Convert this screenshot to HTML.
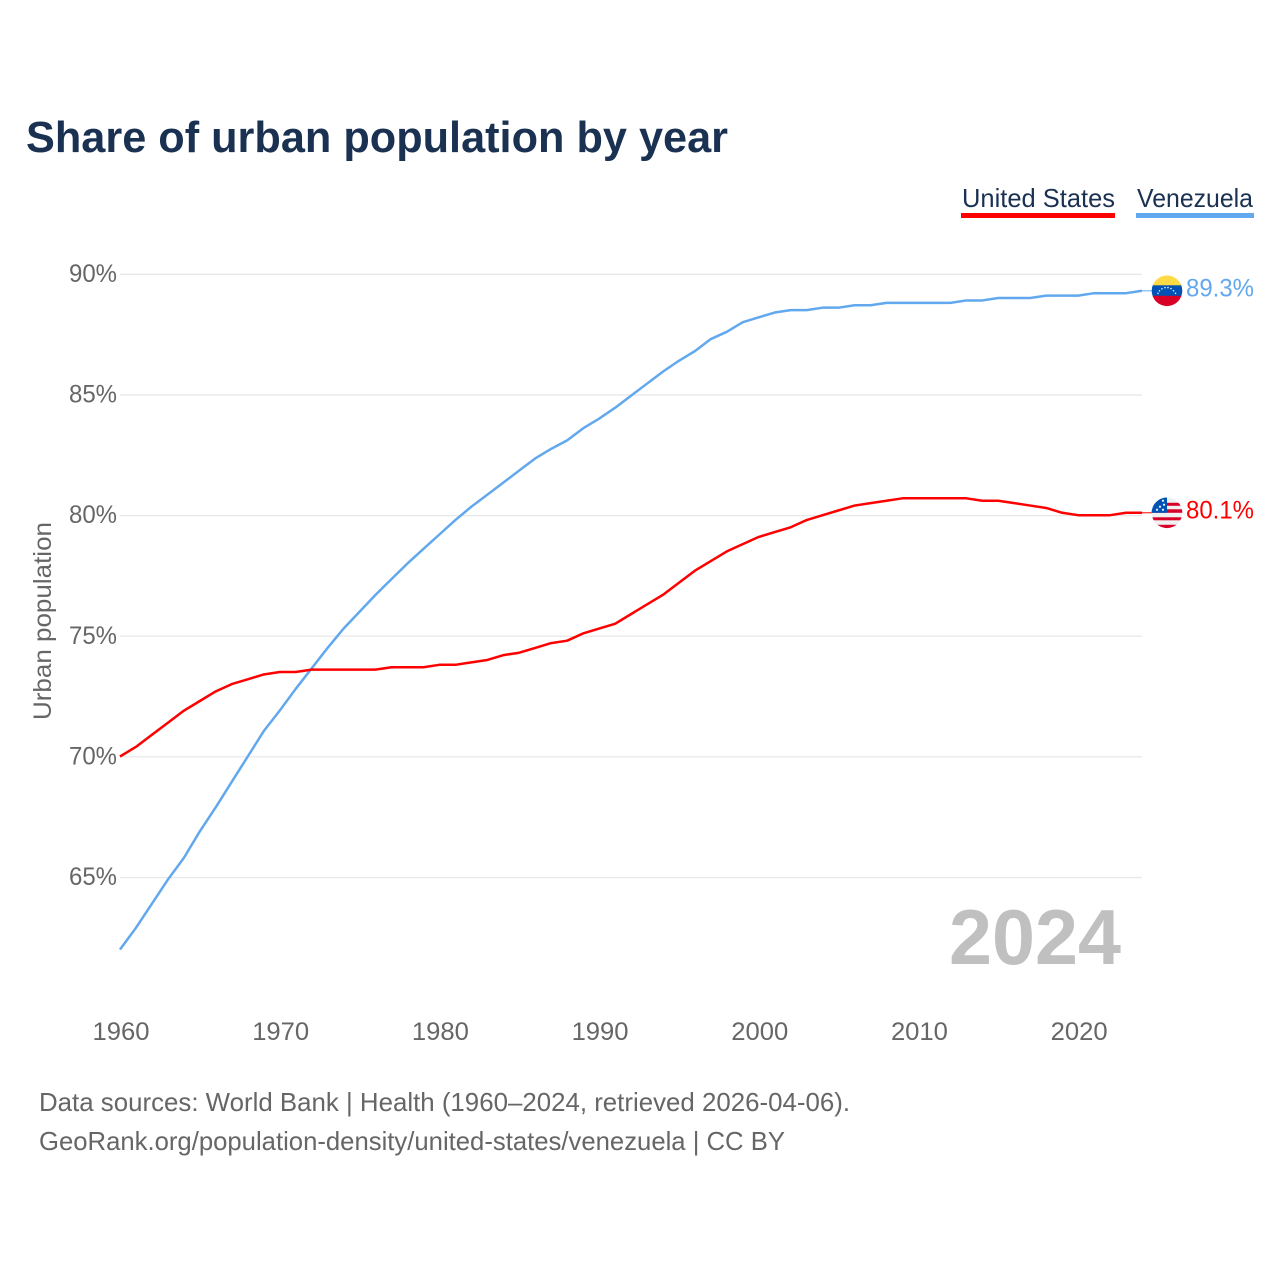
<!DOCTYPE html>
<html lang="en">
<head>
<meta charset="utf-8">
<title>Share of urban population by year</title>
<style>
html,body{margin:0;padding:0;background:#fff;}
#chart-frame{display:block;width:1280px;height:1280px;}
text{font-family:"Liberation Sans",sans-serif;}
</style>
</head>
<body>
<svg id="chart-frame" xmlns="http://www.w3.org/2000/svg" width="1280" height="1280" viewBox="0 0 1280 1280">
  <defs>
    <clipPath id="flag-clip"><circle cx="0" cy="0" r="15.3"/></clipPath>
  </defs>
  <rect width="1280" height="1280" fill="#fff"/>
  <text x="26" y="152" font-size="44" font-weight="700" fill="#1a3152" textLength="702" lengthAdjust="spacingAndGlyphs">Share of urban population by year</text>

  <g>
    <text x="962" y="207" font-size="26" fill="#1a3152" textLength="153" lengthAdjust="spacingAndGlyphs">United States</text>
    <rect x="961" y="213" width="154" height="5" fill="#ff0000"/>
  </g>
  <g>
    <text x="1137" y="207" font-size="26" fill="#1a3152" textLength="116" lengthAdjust="spacingAndGlyphs">Venezuela</text>
    <rect x="1136" y="213" width="118" height="5" fill="#62a8ee"/>
  </g>

  <g id="grid-layer"></g>
  <g id="y-tick-layer"></g>
  <g id="x-tick-layer"></g>

  <text transform="translate(51,621) rotate(-90)" text-anchor="middle" font-size="25" fill="#666" textLength="198" lengthAdjust="spacingAndGlyphs">Urban population</text>

  <text x="1121" y="964" text-anchor="end" font-size="78" font-weight="700" fill="#c0c0c0" textLength="172" lengthAdjust="spacingAndGlyphs">2024</text>

  <g id="series-layer"></g>

  <g id="flag-venezuela">
    <g clip-path="url(#flag-clip)">
      <rect x="-16" y="-16" width="32" height="11" fill="#ffda44"/>
      <rect x="-16" y="-5.5" width="32" height="11" fill="#0052b4"/>
      <rect x="-16" y="5" width="32" height="11" fill="#d80027"/>
      <g fill="#fff" opacity="0.9">
        <circle cx="-9" cy="2.5" r="0.8"/><circle cx="-7.5" cy="0" r="0.8"/><circle cx="-5" cy="-2" r="0.8"/><circle cx="-2" cy="-3.2" r="0.8"/><circle cx="1" cy="-3.2" r="0.8"/><circle cx="4" cy="-2.2" r="0.8"/><circle cx="6.5" cy="0" r="0.8"/><circle cx="8.5" cy="2.5" r="0.8"/>
      </g>
    </g>
  </g>

  <g id="flag-us">
    <g clip-path="url(#flag-clip)">
      <rect x="-16" y="-16" width="32" height="32" fill="#f0f0f0"/>
      <rect x="-16" y="-10" width="32" height="3" fill="#d80027"/>
      <rect x="-16" y="-3.5" width="32" height="3.5" fill="#d80027"/>
      <rect x="-16" y="4.5" width="32" height="3" fill="#d80027"/>
      <rect x="-16" y="12" width="32" height="4" fill="#d80027"/>
      <rect x="-16" y="-16" width="16" height="16" fill="#0052b4"/>
      <g fill="#f0f0f0">
        <circle cx="-10" cy="-3" r="1.1"/><circle cx="-4" cy="-3" r="1.1"/><circle cx="-7" cy="-6" r="1.1"/><circle cx="-3" cy="-8" r="1.1"/><circle cx="-4" cy="-12" r="1.1"/>
      </g>
    </g>
  </g>

  <g id="end-label-layer"></g>

  <text x="39" y="1111" font-size="26" fill="#666" textLength="811" lengthAdjust="spacingAndGlyphs">Data sources: World Bank | Health (1960–2024, retrieved 2026-04-06).</text>
  <text x="39" y="1150" font-size="26" fill="#666" textLength="746" lengthAdjust="spacingAndGlyphs">GeoRank.org/population-density/united-states/venezuela | CC BY</text>
</svg>

<script>
const startYear = 1960;
const usValues = [70.0,70.4,70.9,71.4,71.9,72.3,72.7,73.0,73.2,73.4,
  73.5,73.5,73.6,73.6,73.6,73.6,73.6,73.7,73.7,73.7,
  73.8,73.8,73.9,74.0,74.2,74.3,74.5,74.7,74.8,75.1,
  75.3,75.5,75.9,76.3,76.7,77.2,77.7,78.1,78.5,78.8,
  79.1,79.3,79.5,79.8,80.0,80.2,80.4,80.5,80.6,80.7,
  80.7,80.7,80.7,80.7,80.6,80.6,80.5,80.4,80.3,80.1,
  80.0,80.0,80.0,80.1,80.1];
const venezuelaValues = [62.0,62.9,63.9,64.9,65.8,66.9,67.9,68.95,70.0,71.05,
  71.9,72.8,73.65,74.5,75.3,76.0,76.7,77.35,78.0,78.6,
  79.2,79.8,80.35,80.85,81.35,81.85,82.35,82.75,83.1,83.6,
  84.0,84.45,84.95,85.45,85.95,86.4,86.8,87.3,87.6,88.0,
  88.2,88.4,88.5,88.5,88.6,88.6,88.7,88.7,88.8,88.8,
  88.8,88.8,88.8,88.9,88.9,89.0,89.0,89.0,89.1,89.1,
  89.1,89.2,89.2,89.2,89.3];
const yTickValues = [65,70,75,80,85,90];
const yTickLabels = ["65%","70%","75%","80%","85%","90%"];
const xTickValues = [1960,1970,1980,1990,2000,2010,2020];
const xTickLabels = ["1960","1970","1980","1990","2000","2010","2020"];
const usEndLabel = "80.1%";
const venezuelaEndLabel = "89.3%";

const SVG_NS = "http://www.w3.org/2000/svg";
const plotLeft = 120, plotRight = 1142;
function xScale(year){ return plotLeft + (year - 1960) * (plotRight - plotLeft) / 64; }
function yScale(value){ return 273.9 + (90 - value) * 24.13; }
function make(tag, attrs, parent){
  const el = document.createElementNS(SVG_NS, tag);
  for (const k in attrs) el.setAttribute(k, attrs[k]);
  parent.appendChild(el);
  return el;
}
const gridLayer = document.getElementById("grid-layer");
const yTickLayer = document.getElementById("y-tick-layer");
const xTickLayer = document.getElementById("x-tick-layer");
const seriesLayer = document.getElementById("series-layer");
const endLabelLayer = document.getElementById("end-label-layer");

yTickValues.forEach(function(v, i){
  const line = make("line", {x1: plotLeft, x2: plotRight, y1: yScale(v) + 0.4, y2: yScale(v) + 0.4, stroke: "#e8e8e8", "stroke-width": 1.3}, gridLayer);
  
  
  const t = make("text", {x: 117, y: yScale(v) + 8, "text-anchor": "end", "font-size": 25, fill: "#666", textLength: 48, lengthAdjust: "spacingAndGlyphs"}, yTickLayer);
  
  
  t.textContent = yTickLabels[i];
});

xTickValues.forEach(function(v, i){
  const t = make("text", {x: xScale(v) + 1, y: 1040, "text-anchor": "middle", "font-size": 25, fill: "#666", textLength: 57, lengthAdjust: "spacingAndGlyphs"}, xTickLayer);
  
  
  t.textContent = xTickLabels[i];
});

function linePoints(values){
  return values.map(function(v, i){ return xScale(startYear + i).toFixed(2) + "," + yScale(v).toFixed(2); }).join(" ");
}
function lastOf(values){ return values[values.length - 1]; }

const venezuelaLine = make("polyline", {points: linePoints(venezuelaValues), fill: "none", stroke: "#62a8ee", "stroke-width": 2.5, "stroke-linejoin": "round"}, seriesLayer);


const usLine = make("polyline", {points: linePoints(usValues), fill: "none", stroke: "#ff0000", "stroke-width": 2.5, "stroke-linejoin": "round"}, seriesLayer);



const venezuelaConnector = make("line", {x1: plotRight, x2: 1152, y1: yScale(lastOf(venezuelaValues)), y2: yScale(lastOf(venezuelaValues)), stroke: "#62a8ee", "stroke-width": 1}, seriesLayer);


const usConnector = make("line", {x1: plotRight, x2: 1152, y1: yScale(lastOf(usValues)), y2: yScale(lastOf(usValues)), stroke: "#ff0000", "stroke-width": 1}, seriesLayer);



document.getElementById("flag-venezuela").setAttribute("transform", "translate(1167," + yScale(lastOf(venezuelaValues)) + ")");
document.getElementById("flag-us").setAttribute("transform", "translate(1167," + yScale(lastOf(usValues)) + ")");

const venezuelaEnd = make("text", {x: 1254, y: yScale(lastOf(venezuelaValues)) + 5.5, "text-anchor": "end", "font-size": 25, fill: "#62a8ee", textLength: 68, lengthAdjust: "spacingAndGlyphs"}, endLabelLayer);


venezuelaEnd.textContent = venezuelaEndLabel;
const usEnd = make("text", {x: 1254, y: yScale(lastOf(usValues)) + 5.5, "text-anchor": "end", "font-size": 25, fill: "#ff0000", textLength: 68, lengthAdjust: "spacingAndGlyphs"}, endLabelLayer);


usEnd.textContent = usEndLabel;
</script>
</body>
</html>
